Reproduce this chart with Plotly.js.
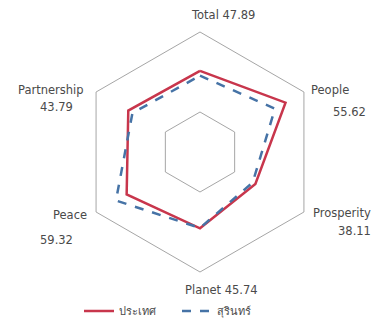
<!DOCTYPE html>
<html>
<head>
<meta charset="utf-8">
<script src="https://cdn.plot.ly/plotly-3.0.1.min.js"></script>
<style>html,body{margin:0;padding:0;background:#fff;}#chart{width:376px;height:335px;}</style>
</head>
<body>
<div id="chart"></div>
<script>
// Data
const categories = ["Total", "People", "Prosperity", "Planet", "Peace", "Partnership"];
const labelValues = ["47.89", "55.62", "38.11", "45.74", "59.32", "43.79"];
const seriesNames = ["ประเทศ", "สุรินทร์"];
const countryValues = [47.3, 57.6, 37.3, 44.5, 49.4, 48.3];
const surinValues = [44.5, 50.5, 35.5, 44.3, 56.6, 45.5];

const closeLoop = a => a.concat([a[0]]);

const traces = [
  {
    type: "scatterpolar", mode: "lines", name: seriesNames[0],
    r: closeLoop(countryValues), theta: closeLoop(categories),
    line: {color: "#c8364c", width: 2.5}
  },
  {
    type: "scatterpolar", mode: "lines", name: seriesNames[1],
    r: closeLoop(surinValues), theta: closeLoop(categories),
    line: {color: "#4673a6", width: 2.5, dash: "dash"}
  }
];

// label positions (paper px) for each category
const labelPos = [
  {x: 223, y: 15, single: true},
  {x: 330, y: 90, vx: 349, vy: 112},
  {x: 342, y: 213, vx: 354, vy: 231},
  {x: 221, y: 290, single: true},
  {x: 70, y: 215, vx: 56, vy: 240},
  {x: 51, y: 90, vx: 56, vy: 107}
];
const W = 376, H = 335;
const annFont = {family: "DejaVu Sans, Verdana, sans-serif", size: 11.5, color: "#4a4a4a"};
const annotations = [];
categories.forEach((c, i) => {
  const p = labelPos[i];
  if (p.single) {
    annotations.push({xref: "paper", yref: "paper", x: p.x / W, y: 1 - p.y / H,
      text: c + " " + labelValues[i], showarrow: false, font: annFont,
      xanchor: "center", yanchor: "middle"});
  } else {
    annotations.push({xref: "paper", yref: "paper", x: p.x / W, y: 1 - p.y / H,
      text: c, showarrow: false, font: annFont, xanchor: "center", yanchor: "middle"});
    annotations.push({xref: "paper", yref: "paper", x: p.vx / W, y: 1 - p.vy / H,
      text: labelValues[i], showarrow: false, font: annFont, xanchor: "center", yanchor: "middle"});
  }
});

const cx = 200, cy = 152, R = 120;
const layout = {
  width: W, height: H,
  margin: {l: 0, r: 0, t: 0, b: 0},
  paper_bgcolor: "#fff",
  showlegend: true,
  legend: {orientation: "h", x: 79 / W, xanchor: "left", y: 1 - 311 / H, yanchor: "middle",
    font: {family: "Noto Sans, DejaVu Sans, sans-serif", size: 11, color: "#4a4a4a"},
    entrywidth: 53, entrywidthmode: "pixels"},
  polar: {
    domain: {x: [(cx - R) / W, (cx + R) / W], y: [(H - cy - R) / H, (H - cy + R) / H]},
    gridshape: "linear",
    bgcolor: "#fff",
    radialaxis: {range: [0, 70], tickvals: [70 / 3], showticklabels: false, ticks: "",
      showline: false, gridcolor: "#a6a6a6", gridwidth: 1},
    angularaxis: {rotation: 90, direction: "clockwise", showgrid: false, showticklabels: false,
      ticks: "", showline: true, linecolor: "#a6a6a6", linewidth: 1}
  },
  annotations: annotations
};

Plotly.newPlot("chart", traces, layout, {displayModeBar: false, staticPlot: true});
</script>
</body>
</html>
